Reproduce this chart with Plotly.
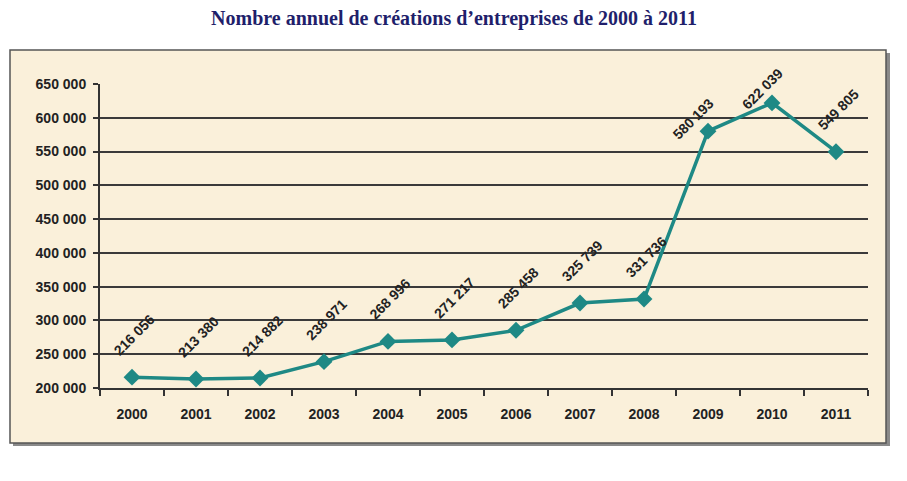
import plotly.graph_objects as go

years = ["2000", "2001", "2002", "2003", "2004", "2005", "2006", "2007", "2008", "2009", "2010", "2011"]
creations = [216056, 213380, 214882, 238971, 268996, 271217, 285458, 325739, 331736, 580193, 622039, 549805]
y_ticks = [200000, 250000, 300000, 350000, 400000, 450000, 500000, 550000, 600000, 650000]

W, H = 907, 481
ML, MR, MT, MB = 100, 39, 84, 93
PW, PH = W - ML - MR, H - MT - MB

def px(x):
    return (x - ML) / PW

def py(y):
    return (H - MB - y) / PH

def fmt(v):
    return f"{v:,}".replace(",", " ")

teal = "#1E8985"
fig = go.Figure()
fig.add_trace(go.Scatter(
    x=years, y=creations, mode="lines+markers",
    line=dict(color=teal, width=3.5),
    marker=dict(symbol="diamond", size=13, color=teal),
    hoverinfo="skip", showlegend=False,
))

# label offsets (pixels) relative to each point
offsets = {"2009": (-15, 12), "2010": (-10, 14)}
annotations = []
for i, (yr, v) in enumerate(zip(years, creations)):
    dx, dy = offsets.get(yr, (2, 42))
    annotations.append(dict(
        x=i, y=v, xref="x", yref="y", text=f"<b>{fmt(v)}</b>", showarrow=False,
        textangle=-45, xshift=dx, yshift=dy,
        font=dict(family="Liberation Sans, Arial", size=14, color="#222222"),
    ))

shapes = [
    # shadow
    dict(type="rect", xref="paper", yref="paper", layer="below",
         x0=px(13), x1=px(890), y0=py(53), y1=py(446),
         fillcolor="#8a8a8a", line=dict(width=0)),
    # frame
    dict(type="rect", xref="paper", yref="paper", layer="below",
         x0=px(10), x1=px(886), y0=py(50), y1=py(443),
         fillcolor="#FAF0DA", line=dict(color="#555555", width=1.5)),
]

fig.update_layout(
    width=W, height=H,
    margin=dict(l=ML, r=MR, t=MT, b=MB),
    paper_bgcolor="white", plot_bgcolor="rgba(0,0,0,0)",
    separators=", ",
    title=dict(text="<b>Nombre annuel de créations d’entreprises de 2000 à 2011</b>",
               x=454 / W, xref="container", xanchor="center", y=1 - 18 / H, yanchor="middle",
               font=dict(family="Liberation Serif, Times New Roman", size=20, color="#1F1F6B")),
    shapes=shapes, annotations=annotations,
    xaxis=dict(type="category", tickson="boundaries", ticks="outside", ticklen=6,
               tickcolor="#333333", tickwidth=2,
               showline=True, linecolor="#333333", linewidth=2,
               showgrid=False, range=[-0.5, 11.5],
               tickfont=dict(family="Liberation Sans, Arial", size=14, color="#222222", weight="bold"),
               ticklabelstandoff=12),
    yaxis=dict(range=[200000, 650000], tickvals=y_ticks, tickformat=",d",
               ticks="outside", ticklen=5, tickcolor="#333333", tickwidth=2,
               showline=True, linecolor="#333333", linewidth=2,
               showgrid=True, gridcolor="#3a3a3a", gridwidth=2, zeroline=False,
               ticklabelstandoff=4,
               tickfont=dict(family="Liberation Sans, Arial", size=14, color="#222222", weight="bold")),
)

fig.write_html("out.html")
